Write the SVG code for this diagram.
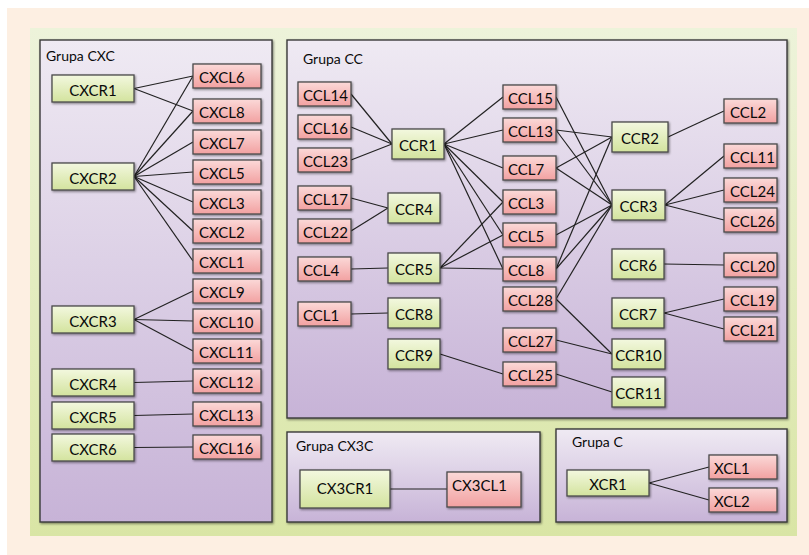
<svg xmlns="http://www.w3.org/2000/svg" width="809" height="555" viewBox="0 0 809 555">
  <defs>
    <linearGradient id="gPanel" x1="0" y1="0" x2="0" y2="1">
      <stop offset="0" stop-color="#edf3da"/>
      <stop offset="1" stop-color="#d9e5a5"/>
    </linearGradient>
    <linearGradient id="gGrp" x1="0" y1="0" x2="0" y2="1">
      <stop offset="0" stop-color="#efeaf3"/>
      <stop offset="1" stop-color="#c7b3d7"/>
    </linearGradient>
    <linearGradient id="gRec" x1="0" y1="0" x2="0" y2="1">
      <stop offset="0" stop-color="#f3f8df"/>
      <stop offset="1" stop-color="#d3e39e"/>
    </linearGradient>
    <linearGradient id="gLig" x1="0" y1="0" x2="0" y2="1">
      <stop offset="0" stop-color="#fbd9d8"/>
      <stop offset="1" stop-color="#f2a1a1"/>
    </linearGradient>
    <filter id="sh" x="-10%" y="-10%" width="130%" height="140%">
      <feDropShadow dx="1" dy="1.2" stdDeviation="0.8" flood-color="#000" flood-opacity="0.45"/>
    </filter>
  </defs>
  <style>
    .grp { fill: url(#gGrp); stroke: #3a3a3a; stroke-width: 1.4; filter: url(#sh); }
    .rec rect { fill: url(#gRec); stroke: #4a4a4a; stroke-width: 1.3; filter: url(#sh); }
    .lig rect { fill: url(#gLig); stroke: #4a4a4a; stroke-width: 1.3; filter: url(#sh); }
    text { font-family: Lato, "Liberation Sans", sans-serif; fill: #0a0a0a; }
    .rec text { font-size: 15px; text-anchor: middle; }
    .lig text { font-size: 15px; }
    .title { font-size: 14px; }
    #connectors line { stroke: #222; stroke-width: 1.2; }
  </style>

  <!-- page and panel -->
  <rect x="0" y="0" width="809" height="555" fill="#ffffff"/>
  <rect x="7" y="8" width="802" height="547" fill="#fdefe2"/>
  <rect x="30" y="28" width="767" height="508" fill="url(#gPanel)"/>

  <!-- group frames -->
  <g id="group-cxc">
    <rect class="grp" x="40" y="40" width="232" height="482"/>
    <text class="title" x="46" y="61">Grupa CXC</text>
  </g>
  <g id="group-cc">
    <rect class="grp" x="287" y="40" width="500" height="378"/>
    <text class="title" x="303" y="64">Grupa CC</text>
  </g>
  <g id="group-cx3c">
    <rect class="grp" x="287" y="432" width="253" height="90"/>
    <text class="title" x="296" y="451">Grupa CX3C</text>
  </g>
  <g id="group-c">
    <rect class="grp" x="556" y="429" width="231" height="93"/>
    <text class="title" x="572" y="447">Grupa C</text>
  </g>

  <!-- connectors -->
  <g id="connectors">
    <!-- CXC -->
    <line x1="134" y1="88.5" x2="193" y2="76"/>
    <line x1="134" y1="88.5" x2="193" y2="111"/>
    <line x1="134" y1="176.5" x2="193" y2="76"/>
    <line x1="134" y1="176.5" x2="193" y2="111"/>
    <line x1="134" y1="176.5" x2="193" y2="142"/>
    <line x1="134" y1="176.5" x2="193" y2="172"/>
    <line x1="134" y1="176.5" x2="193" y2="202"/>
    <line x1="134" y1="176.5" x2="193" y2="231"/>
    <line x1="134" y1="176.5" x2="193" y2="261"/>
    <line x1="134" y1="319.5" x2="193" y2="291"/>
    <line x1="134" y1="319.5" x2="193" y2="321"/>
    <line x1="134" y1="319.5" x2="193" y2="351"/>
    <line x1="134" y1="382.5" x2="193" y2="381"/>
    <line x1="134" y1="415.5" x2="193" y2="414"/>
    <line x1="134" y1="447.5" x2="193" y2="447"/>
    <!-- CC, left column -->
    <line x1="351" y1="94" x2="392" y2="144"/>
    <line x1="351" y1="127" x2="392" y2="144"/>
    <line x1="351" y1="160" x2="392" y2="144"/>
    <line x1="351" y1="198" x2="388" y2="208"/>
    <line x1="351" y1="231" x2="388" y2="208"/>
    <line x1="351" y1="269" x2="388" y2="268"/>
    <line x1="351" y1="314" x2="388" y2="313"/>
    <line x1="440" y1="354" x2="503" y2="374"/>
    <!-- CCR1 -->
    <line x1="444" y1="144" x2="503" y2="97"/>
    <line x1="444" y1="144" x2="503" y2="130"/>
    <line x1="444" y1="144" x2="503" y2="168"/>
    <line x1="444" y1="144" x2="503" y2="202"/>
    <line x1="444" y1="144" x2="503" y2="235"/>
    <line x1="444" y1="144" x2="503" y2="269"/>
    <!-- CCR5 -->
    <line x1="440" y1="268" x2="503" y2="202"/>
    <line x1="440" y1="268" x2="503" y2="235"/>
    <line x1="440" y1="268" x2="503" y2="269"/>
    <!-- CCR2 -->
    <line x1="556" y1="130" x2="612" y2="137"/>
    <line x1="556" y1="168" x2="612" y2="137"/>
    <line x1="556" y1="269" x2="612" y2="137"/>
    <!-- CCR3 -->
    <line x1="556" y1="97" x2="612" y2="205"/>
    <line x1="556" y1="130" x2="612" y2="205"/>
    <line x1="556" y1="168" x2="612" y2="205"/>
    <line x1="556" y1="235" x2="612" y2="205"/>
    <line x1="556" y1="269" x2="612" y2="205"/>
    <line x1="556" y1="299" x2="612" y2="205"/>
    <!-- CCR10, CCR11 -->
    <line x1="556" y1="299" x2="612" y2="354"/>
    <line x1="556" y1="340" x2="612" y2="354"/>
    <line x1="556" y1="374" x2="612" y2="392"/>
    <!-- CC, right column -->
    <line x1="668" y1="137" x2="724" y2="111"/>
    <line x1="665" y1="205" x2="724" y2="156"/>
    <line x1="665" y1="205" x2="724" y2="190"/>
    <line x1="665" y1="205" x2="724" y2="220"/>
    <line x1="664" y1="264" x2="724" y2="265"/>
    <line x1="664" y1="313" x2="724" y2="299"/>
    <line x1="664" y1="313" x2="724" y2="329"/>
    <!-- CX3C, C -->
    <line x1="390" y1="489" x2="447" y2="489"/>
    <line x1="649" y1="483" x2="709" y2="467"/>
    <line x1="649" y1="483" x2="709" y2="500"/>
  </g>

  <!-- CXC receptors -->
  <g id="CXCR1" class="rec"><rect x="52" y="75" width="82" height="27"/><text x="93" y="95.5">CXCR1</text></g>
  <g id="CXCR2" class="rec"><rect x="52" y="163" width="82" height="27"/><text x="93" y="183.5">CXCR2</text></g>
  <g id="CXCR3" class="rec"><rect x="52" y="306" width="82" height="27"/><text x="93" y="326.5">CXCR3</text></g>
  <g id="CXCR4" class="rec"><rect x="52" y="369" width="82" height="27"/><text x="93" y="389.5">CXCR4</text></g>
  <g id="CXCR5" class="rec"><rect x="52" y="402" width="82" height="27"/><text x="93" y="422.5">CXCR5</text></g>
  <g id="CXCR6" class="rec"><rect x="52" y="434" width="82" height="27"/><text x="93" y="454.5">CXCR6</text></g>

  <!-- CXC ligands -->
  <g id="CXCL6" class="lig"><rect x="193" y="64" width="68" height="24"/><text x="199" y="82.5">CXCL6</text></g>
  <g id="CXCL8" class="lig"><rect x="193" y="99" width="68" height="24"/><text x="199" y="117.5">CXCL8</text></g>
  <g id="CXCL7" class="lig"><rect x="193" y="130" width="68" height="24"/><text x="199" y="148.5">CXCL7</text></g>
  <g id="CXCL5" class="lig"><rect x="193" y="160" width="68" height="24"/><text x="199" y="178.5">CXCL5</text></g>
  <g id="CXCL3" class="lig"><rect x="193" y="190" width="68" height="24"/><text x="199" y="208.5">CXCL3</text></g>
  <g id="CXCL2" class="lig"><rect x="193" y="219" width="68" height="24"/><text x="199" y="237.5">CXCL2</text></g>
  <g id="CXCL1" class="lig"><rect x="193" y="249" width="68" height="24"/><text x="199" y="267.5">CXCL1</text></g>
  <g id="CXCL9" class="lig"><rect x="193" y="279" width="68" height="24"/><text x="199" y="297.5">CXCL9</text></g>
  <g id="CXCL10" class="lig"><rect x="193" y="309" width="68" height="24"/><text x="199" y="327.5">CXCL10</text></g>
  <g id="CXCL11" class="lig"><rect x="193" y="339" width="68" height="24"/><text x="199" y="357.5">CXCL11</text></g>
  <g id="CXCL12" class="lig"><rect x="193" y="369" width="68" height="24"/><text x="199" y="387.5">CXCL12</text></g>
  <g id="CXCL13" class="lig"><rect x="193" y="402" width="68" height="24"/><text x="199" y="420.5">CXCL13</text></g>
  <g id="CXCL16" class="lig"><rect x="193" y="435" width="68" height="24"/><text x="199" y="453.5">CXCL16</text></g>

  <!-- CC ligands, left column -->
  <g id="CCL14" class="lig"><rect x="298" y="82" width="53" height="24"/><text x="303" y="100.5">CCL14</text></g>
  <g id="CCL16" class="lig"><rect x="298" y="115" width="53" height="24"/><text x="303" y="133.5">CCL16</text></g>
  <g id="CCL23" class="lig"><rect x="298" y="148" width="53" height="24"/><text x="303" y="166.5">CCL23</text></g>
  <g id="CCL17" class="lig"><rect x="298" y="186" width="53" height="24"/><text x="303" y="204.5">CCL17</text></g>
  <g id="CCL22" class="lig"><rect x="298" y="219" width="53" height="24"/><text x="303" y="237.5">CCL22</text></g>
  <g id="CCL4" class="lig"><rect x="298" y="257" width="53" height="24"/><text x="303" y="275.5">CCL4</text></g>
  <g id="CCL1" class="lig"><rect x="298" y="302" width="53" height="24"/><text x="303" y="320.5">CCL1</text></g>

  <!-- CC receptors, first column -->
  <g id="CCR1" class="rec"><rect x="392" y="129" width="52" height="30"/><text x="418" y="151">CCR1</text></g>
  <g id="CCR4" class="rec"><rect x="388" y="193" width="52" height="30"/><text x="414" y="215">CCR4</text></g>
  <g id="CCR5" class="rec"><rect x="388" y="253" width="52" height="30"/><text x="414" y="275">CCR5</text></g>
  <g id="CCR8" class="rec"><rect x="388" y="298" width="52" height="30"/><text x="414" y="320">CCR8</text></g>
  <g id="CCR9" class="rec"><rect x="388" y="339" width="52" height="30"/><text x="414" y="361">CCR9</text></g>

  <!-- CC ligands, middle column -->
  <g id="CCL15" class="lig"><rect x="503" y="85" width="53" height="24"/><text x="508" y="103.5">CCL15</text></g>
  <g id="CCL13" class="lig"><rect x="503" y="118" width="53" height="24"/><text x="508" y="136.5">CCL13</text></g>
  <g id="CCL7" class="lig"><rect x="503" y="156" width="53" height="24"/><text x="508" y="174.5">CCL7</text></g>
  <g id="CCL3" class="lig"><rect x="503" y="190" width="53" height="24"/><text x="508" y="208.5">CCL3</text></g>
  <g id="CCL5" class="lig"><rect x="503" y="223" width="53" height="24"/><text x="508" y="241.5">CCL5</text></g>
  <g id="CCL8" class="lig"><rect x="503" y="257" width="53" height="24"/><text x="508" y="275.5">CCL8</text></g>
  <g id="CCL28" class="lig"><rect x="503" y="287" width="53" height="24"/><text x="508" y="305.5">CCL28</text></g>
  <g id="CCL27" class="lig"><rect x="503" y="328" width="53" height="24"/><text x="508" y="346.5">CCL27</text></g>
  <g id="CCL25" class="lig"><rect x="503" y="362" width="53" height="24"/><text x="508" y="380.5">CCL25</text></g>

  <!-- CC receptors, second column -->
  <g id="CCR2" class="rec"><rect x="612" y="122" width="56" height="30"/><text x="640" y="144">CCR2</text></g>
  <g id="CCR3" class="rec"><rect x="612" y="190" width="53" height="30"/><text x="638.5" y="212">CCR3</text></g>
  <g id="CCR6" class="rec"><rect x="612" y="249" width="52" height="30"/><text x="638" y="271">CCR6</text></g>
  <g id="CCR7" class="rec"><rect x="612" y="298" width="52" height="30"/><text x="638" y="320">CCR7</text></g>
  <g id="CCR10" class="rec"><rect x="612" y="339" width="53" height="30"/><text x="638.5" y="361">CCR10</text></g>
  <g id="CCR11" class="rec"><rect x="612" y="377" width="53" height="30"/><text x="638.5" y="399">CCR11</text></g>

  <!-- CC ligands, right column -->
  <g id="CCL2" class="lig"><rect x="724" y="99" width="53" height="24"/><text x="730" y="117.5">CCL2</text></g>
  <g id="CCL11" class="lig"><rect x="724" y="144" width="53" height="24"/><text x="730" y="162.5">CCL11</text></g>
  <g id="CCL24" class="lig"><rect x="724" y="178" width="53" height="24"/><text x="730" y="196.5">CCL24</text></g>
  <g id="CCL26" class="lig"><rect x="724" y="208" width="53" height="24"/><text x="730" y="226.5">CCL26</text></g>
  <g id="CCL20" class="lig"><rect x="724" y="253" width="53" height="24"/><text x="730" y="271.5">CCL20</text></g>
  <g id="CCL19" class="lig"><rect x="724" y="287" width="53" height="24"/><text x="730" y="305.5">CCL19</text></g>
  <g id="CCL21" class="lig"><rect x="724" y="317" width="53" height="24"/><text x="730" y="335.5">CCL21</text></g>

  <!-- CX3C group -->
  <g id="CX3CR1" class="rec"><rect x="300" y="470" width="90" height="38"/><text x="345" y="494">CX3CR1</text></g>
  <g id="CX3CL1" class="lig"><rect x="447" y="472" width="74" height="35"/><text x="452" y="491">CX3CL1</text></g>

  <!-- C group -->
  <g id="XCR1" class="rec"><rect x="567" y="470" width="82" height="26"/><text x="608" y="489.5">XCR1</text></g>
  <g id="XCL1" class="lig"><rect x="709" y="455" width="68" height="24"/><text x="714" y="473.5">XCL1</text></g>
  <g id="XCL2" class="lig"><rect x="709" y="488" width="68" height="24"/><text x="714" y="506.5">XCL2</text></g>
</svg>
